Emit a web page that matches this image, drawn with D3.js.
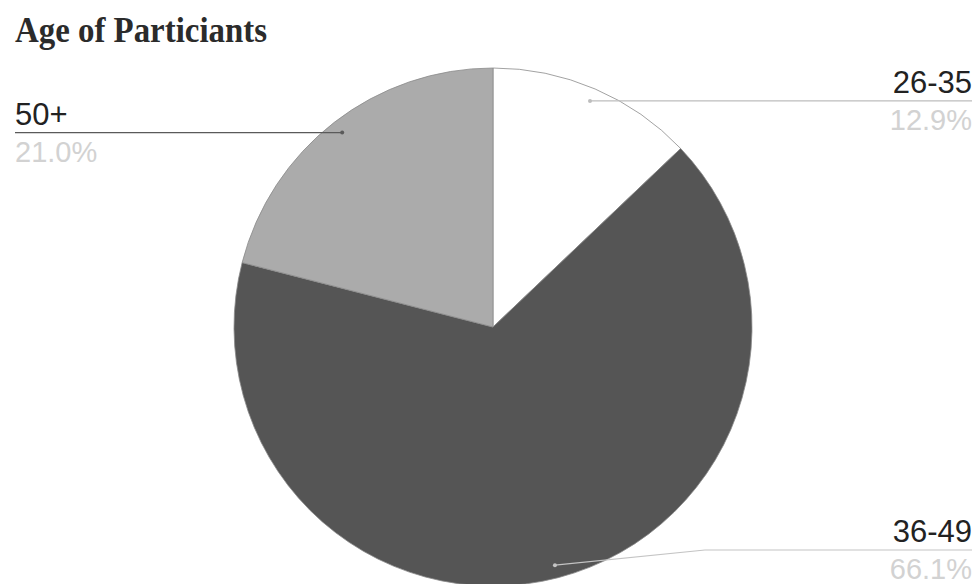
<!DOCTYPE html>
<html>
<head>
<meta charset="utf-8">
<script src="https://cdn.jsdelivr.net/npm/d3@7"></script>
<style>
  body { margin: 0; background: #fff; }
  svg { display: block; }
</style>
</head>
<body>
<div id="chart"></div>
<script>
// Data
const categories = ["26-35", "36-49", "50+"];
const shares = [12.9, 66.1, 21.0];
const title = "Age of Particiants";

const width = 978, height = 584;
const cx = 493, cy = 327, radius = 259;

const svg = d3.select("#chart").append("svg")
  .attr("width", width)
  .attr("height", height);

// Title
svg.append("text")
  .attr("x", 15)
  .attr("y", 42)
  .attr("font-family", "'Liberation Serif', serif")
  .attr("font-weight", "bold")
  .attr("font-size", 35)
  .attr("textLength", 252)
  .attr("lengthAdjust", "spacingAndGlyphs")
  .attr("fill", "#2b2b2b")
  .text(title);

const color = d3.scaleOrdinal()
  .domain(categories)
  .range(["#ffffff", "#555555", "#ababab"]);

const pie = d3.pie().sort(null).value(d => d.value);
const arcs = pie(categories.map((c, i) => ({ name: c, value: shares[i] })));

const arc = d3.arc().innerRadius(0).outerRadius(radius);

const g = svg.append("g").attr("transform", `translate(${cx},${cy})`);

g.selectAll("path")
  .data(arcs)
  .join("path")
  .attr("d", arc)
  .attr("fill", d => color(d.data.name))
  .attr("stroke", "#8a8a8a")
  .attr("stroke-width", 0.8);

// Leader lines and labels
const inner = d3.arc().innerRadius(radius * 0.95).outerRadius(radius * 0.95);
const maxLineY = 550;
const lineColor = ["#bdbdbd", "#c4c4c4", "#5a5a5a"];

arcs.forEach((d, i) => {
  const [px, py] = inner.centroid(d);
  const dotX = cx + px, dotY = cy + py;
  const mid = (d.startAngle + d.endAngle) / 2;
  const right = mid < Math.PI;
  const lineY = Math.min(dotY, maxLineY);
  const endX = right ? 972 : 15;

  const pts = dotY !== lineY
    ? [[dotX, dotY], [dotX + 150, lineY], [endX, lineY]]
    : [[dotX, dotY], [endX, lineY]];

  svg.append("path")
    .attr("d", d3.line()(pts))
    .attr("fill", "none")
    .attr("stroke", lineColor[i])
    .attr("stroke-width", 1.2);

  svg.append("circle")
    .attr("cx", dotX)
    .attr("cy", dotY)
    .attr("r", 2)
    .attr("fill", lineColor[i]);

  svg.append("text")
    .attr("x", endX)
    .attr("y", lineY - 8)
    .attr("text-anchor", right ? "end" : "start")
    .attr("font-family", "'Liberation Sans', Arial, sans-serif")
    .attr("font-size", 31)
    .attr("fill", "#222")
    .text(d.data.name);

  svg.append("text")
    .attr("x", endX)
    .attr("y", lineY + 29)
    .attr("text-anchor", right ? "end" : "start")
    .attr("font-family", "'Liberation Sans', Arial, sans-serif")
    .attr("font-size", 29)
    .attr("fill", "#d2d2d2")
    .text(d3.format(".1f")(d.data.value) + "%");
});
</script>
</body>
</html>
